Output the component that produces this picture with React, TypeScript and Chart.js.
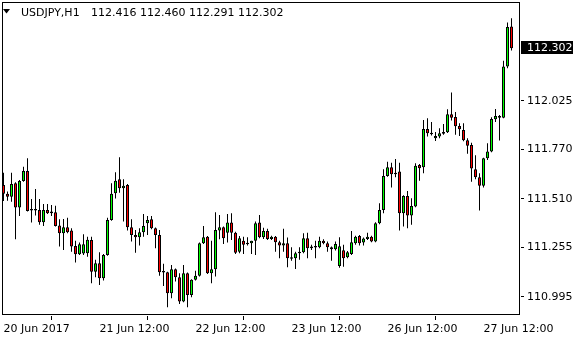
import React, { useEffect, useRef } from "react";
import { Chart, registerables } from "chart.js";

Chart.register(...registerables);

const symbolLabel = "USDJPY,H1";

const opens = [
  111.584, 111.537, 111.522, 111.593, 111.465, 111.605, 111.657, 111.458, 111.449, 111.452,
  111.388, 111.452, 111.435, 111.440, 111.370, 111.330, 111.362, 111.344, 111.263, 111.220,
  111.223, 111.225, 111.295, 111.128, 111.172, 111.094, 111.216, 111.400, 111.540, 111.614,
  111.567, 111.584, 111.362, 111.321, 111.309, 111.335, 111.383, 111.404, 111.356, 111.321,
  111.126, 111.125, 111.015, 111.141, 111.099, 110.971, 111.120, 111.006, 111.085, 111.106,
  111.277, 111.312, 111.120, 111.141, 111.344, 111.362, 111.333, 111.386, 111.333, 111.233,
  111.291, 111.277, 111.277, 111.290, 111.386, 111.309, 111.342, 111.300, 111.312, 111.283,
  111.265, 111.277, 111.199, 111.199, 111.225, 111.230, 111.304, 111.251, 111.260, 111.256,
  111.290, 111.277, 111.256, 111.246, 111.158, 111.240, 111.204, 111.221, 111.277, 111.316,
  111.281, 111.300, 111.312, 111.286, 111.383, 111.452, 111.631, 111.677, 111.648, 111.654,
  111.435, 111.526, 111.423, 111.470, 111.689, 111.677, 111.878, 111.857, 111.829, 111.838,
  111.853, 111.861, 111.955, 111.941, 111.894, 111.873, 111.819, 111.794, 111.666, 111.624,
  111.580, 111.724, 111.759, 111.929, 111.937, 111.937, 112.206, 112.416,
];
const highs = [
  111.648, 111.549, 111.648, 111.598, 111.610, 111.680, 111.724, 111.510, 111.563, 111.510,
  111.484, 111.484, 111.479, 111.475, 111.404, 111.405, 111.412, 111.356, 111.291, 111.281,
  111.325, 111.312, 111.312, 111.190, 111.230, 111.221, 111.412, 111.593, 111.651, 111.729,
  111.614, 111.589, 111.404, 111.347, 111.356, 111.431, 111.421, 111.421, 111.360, 111.347,
  111.169, 111.128, 111.163, 111.145, 111.120, 111.163, 111.124, 111.088, 111.133, 111.281,
  111.368, 111.316, 111.291, 111.440, 111.426, 111.365, 111.431, 111.435, 111.338, 111.316,
  111.312, 111.309, 111.291, 111.391, 111.426, 111.359, 111.353, 111.317, 111.316, 111.290,
  111.353, 111.307, 111.256, 111.233, 111.256, 111.330, 111.333, 111.269, 111.291, 111.312,
  111.298, 111.286, 111.260, 111.286, 111.309, 111.269, 111.237, 111.342, 111.317, 111.321,
  111.307, 111.333, 111.317, 111.388, 111.488, 111.666, 111.706, 111.701, 111.720, 111.701,
  111.530, 111.552, 111.514, 111.698, 111.694, 111.925, 111.934, 111.915, 111.862, 111.882,
  111.904, 111.982, 112.069, 111.967, 111.908, 111.908, 111.829, 111.806, 111.740, 111.645,
  111.727, 111.803, 111.940, 111.983, 111.952, 112.237, 112.437, 112.460,
];
const lows = [
  111.500, 111.501, 111.496, 111.298, 111.421, 111.600, 111.444, 111.386, 111.423, 111.374,
  111.368, 111.431, 111.421, 111.365, 111.260, 111.242, 111.330, 111.233, 111.176, 111.216,
  111.216, 111.207, 111.067, 111.099, 111.058, 111.081, 111.211, 111.396, 111.512, 111.543,
  111.391, 111.344, 111.286, 111.228, 111.265, 111.312, 111.321, 111.351, 111.251, 111.106,
  111.053, 110.941, 110.988, 111.076, 110.958, 110.967, 110.941, 110.994, 111.081, 111.102,
  111.274, 111.116, 111.067, 111.102, 111.298, 111.274, 111.281, 111.295, 111.221, 111.225,
  111.221, 111.265, 111.221, 111.216, 111.304, 111.300, 111.295, 111.295, 111.233, 111.199,
  111.233, 111.151, 111.186, 111.142, 111.190, 111.225, 111.199, 111.242, 111.199, 111.251,
  111.272, 111.233, 111.185, 111.239, 111.149, 111.154, 111.199, 111.216, 111.269, 111.265,
  111.265, 111.295, 111.283, 111.283, 111.377, 111.435, 111.627, 111.570, 111.624, 111.344,
  111.365, 111.356, 111.374, 111.467, 111.606, 111.645, 111.838, 111.843, 111.815, 111.829,
  111.848, 111.857, 111.922, 111.848, 111.841, 111.813, 111.748, 111.601, 111.614, 111.449,
  111.570, 111.715, 111.756, 111.915, 111.817, 111.934, 112.197, 112.291,
];
const closes = [
  111.537, 111.522, 111.589, 111.465, 111.605, 111.657, 111.447, 111.449, 111.456, 111.388,
  111.452, 111.435, 111.444, 111.368, 111.330, 111.362, 111.335, 111.260, 111.220, 111.272,
  111.272, 111.296, 111.128, 111.172, 111.094, 111.216, 111.400, 111.537, 111.606, 111.567,
  111.580, 111.362, 111.321, 111.309, 111.335, 111.368, 111.400, 111.356, 111.321, 111.125,
  111.123, 111.015, 111.141, 111.099, 110.971, 111.120, 111.006, 111.085, 111.106, 111.277,
  111.309, 111.120, 111.141, 111.347, 111.362, 111.304, 111.386, 111.333, 111.228, 111.304,
  111.269, 111.272, 111.290, 111.383, 111.309, 111.342, 111.300, 111.312, 111.283, 111.265,
  111.277, 111.199, 111.196, 111.225, 111.233, 111.304, 111.251, 111.260, 111.255, 111.290,
  111.277, 111.256, 111.246, 111.274, 111.262, 111.198, 111.230, 111.283, 111.312, 111.277,
  111.302, 111.312, 111.286, 111.383, 111.452, 111.631, 111.677, 111.640, 111.640, 111.435,
  111.526, 111.423, 111.473, 111.684, 111.672, 111.878, 111.856, 111.850, 111.841, 111.856,
  111.862, 111.955, 111.937, 111.892, 111.877, 111.819, 111.790, 111.670, 111.624, 111.580,
  111.724, 111.759, 111.931, 111.946, 111.946, 112.206, 112.414, 112.302,
];

const xTickIndices = [0, 24, 48, 72, 96, 120];
const xTickLabels = ["20 Jun 2017", "21 Jun 12:00", "22 Jun 12:00", "23 Jun 12:00", "26 Jun 12:00", "27 Jun 12:00"];
const yTickValues = [110.995, 111.255, 111.51, 111.77, 112.025];
const yMin = 110.895;
const yMax = 112.54;
const xMin = -0.125;
const xMax = 129.375;

const FONT = "'DejaVu Sans', sans-serif";

export default function App() {
  const ref = useRef<HTMLCanvasElement>(null);

  useEffect(() => {
    document.body.style.margin = "0";
    const canvas = ref.current;
    if (!canvas) return;
    const idx = opens.map((_, i) => i);
    const bull = idx.map((i) => closes[i] >= opens[i]);
    const last = closes.length - 1;

    const overlay = {
      id: "overlay",
      afterDraw(chart: any) {
        const { ctx, chartArea } = chart;
        ctx.save();
        ctx.strokeStyle = "#000";
        ctx.lineWidth = 1;
        ctx.strokeRect(
          chartArea.left - 0.5,
          chartArea.top - 0.5,
          chartArea.right - chartArea.left - 1,
          chartArea.bottom - chartArea.top - 1
        );
        // header
        ctx.fillStyle = "#000";
        ctx.beginPath();
        ctx.moveTo(3, 9);
        ctx.lineTo(10, 9);
        ctx.lineTo(6.5, 13.5);
        ctx.closePath();
        ctx.fill();
        ctx.font = "11px " + FONT;
        ctx.textBaseline = "alphabetic";
        ctx.textAlign = "left";
        ctx.fillText(symbolLabel, 21, 16);
        ctx.fillText(
          [opens[last], highs[last], lows[last], closes[last]].map((v) => v.toFixed(3)).join(" "),
          91,
          16
        );
        // current price label
        const y = chart.scales.y.getPixelForValue(closes[last]);
        const yy = Math.round(y);
        ctx.fillStyle = "#000";
        ctx.fillRect(chartArea.right, yy - 7, 52, 13);
        ctx.fillStyle = "#fff";
        ctx.textBaseline = "middle";
        ctx.fillText(closes[last].toFixed(3), chartArea.right + 6, yy);
        ctx.restore();
      },
    };

    const chart = new Chart(canvas, {
      type: "bar",
      data: {
        datasets: [
          {
            label: "body",
            data: idx.map((i) => ({ x: i, y: [opens[i], closes[i]] })) as any,
            backgroundColor: idx.map((i) => (bull[i] ? "#00ff00" : "#ff0000")),
            borderColor: "#000",
            borderWidth: 1,
            borderSkipped: false,
            barThickness: 3,
            minBarLength: 1.5,
            grouped: false,
            inflateAmount: 0,
            order: 0,
          } as any,
          {
            label: "wick",
            data: idx.map((i) => ({ x: i, y: [lows[i], highs[i]] })) as any,
            backgroundColor: "#000",
            borderWidth: 0,
            barThickness: 1,
            grouped: false,
            inflateAmount: 0,
            order: 1,
          } as any,
        ],
      },
      options: {
        responsive: false,
        devicePixelRatio: 1,
        animation: false,
        events: [],
        layout: { padding: { left: 3, top: 3, right: 0, bottom: 0 } },
        plugins: {
          legend: { display: false },
          tooltip: { enabled: false },
          title: { display: false },
        },
        scales: {
          x: {
            type: "linear",
            position: "bottom",
            min: xMin,
            max: xMax,
            bounds: "data",
            offset: false,
            grid: { drawOnChartArea: false, drawTicks: true, tickLength: 4, color: "#000" },
            border: { display: false },
            ticks: {
              autoSkip: false,
              maxRotation: 0,
              minRotation: 0,
              align: "start",
              padding: 3,
              color: "#000",
              font: { family: FONT, size: 11 },
              callback: (v: any) => {
                const k = xTickIndices.indexOf(Number(v));
                return k >= 0 ? xTickLabels[k] : "";
              },
            },
            afterBuildTicks: (s: any) => {
              s.ticks = xTickIndices.map((v) => ({ value: v }));
            },
            afterFit: (s: any) => {
              s.height = 24;
              s.paddingLeft = 0;
              s.paddingRight = 0;
            },
          } as any,
          y: {
            type: "linear",
            position: "right",
            min: yMin,
            max: yMax,
            bounds: "data",
            grid: { drawOnChartArea: false, drawTicks: true, tickLength: 3, color: "#000" },
            border: { display: false },
            ticks: {
              padding: 3,
              color: "#000",
              font: { family: FONT, size: 11 },
              callback: (v: any) => Number(v).toFixed(3),
            },
            afterBuildTicks: (s: any) => {
              s.ticks = yTickValues.map((v) => ({ value: v }));
            },
            afterFit: (s: any) => {
              s.width = 59;
              s.paddingTop = 0;
              s.paddingBottom = 0;
            },
          } as any,
        },
      },
      plugins: [overlay],
    });
    return () => chart.destroy();
  }, []);

  return (
    <div style={{ width: 580, height: 340, background: "#fff" }}>
      <canvas ref={ref} width={580} height={340} style={{ display: "block", width: 580, height: 340 }} />
    </div>
  );
}
